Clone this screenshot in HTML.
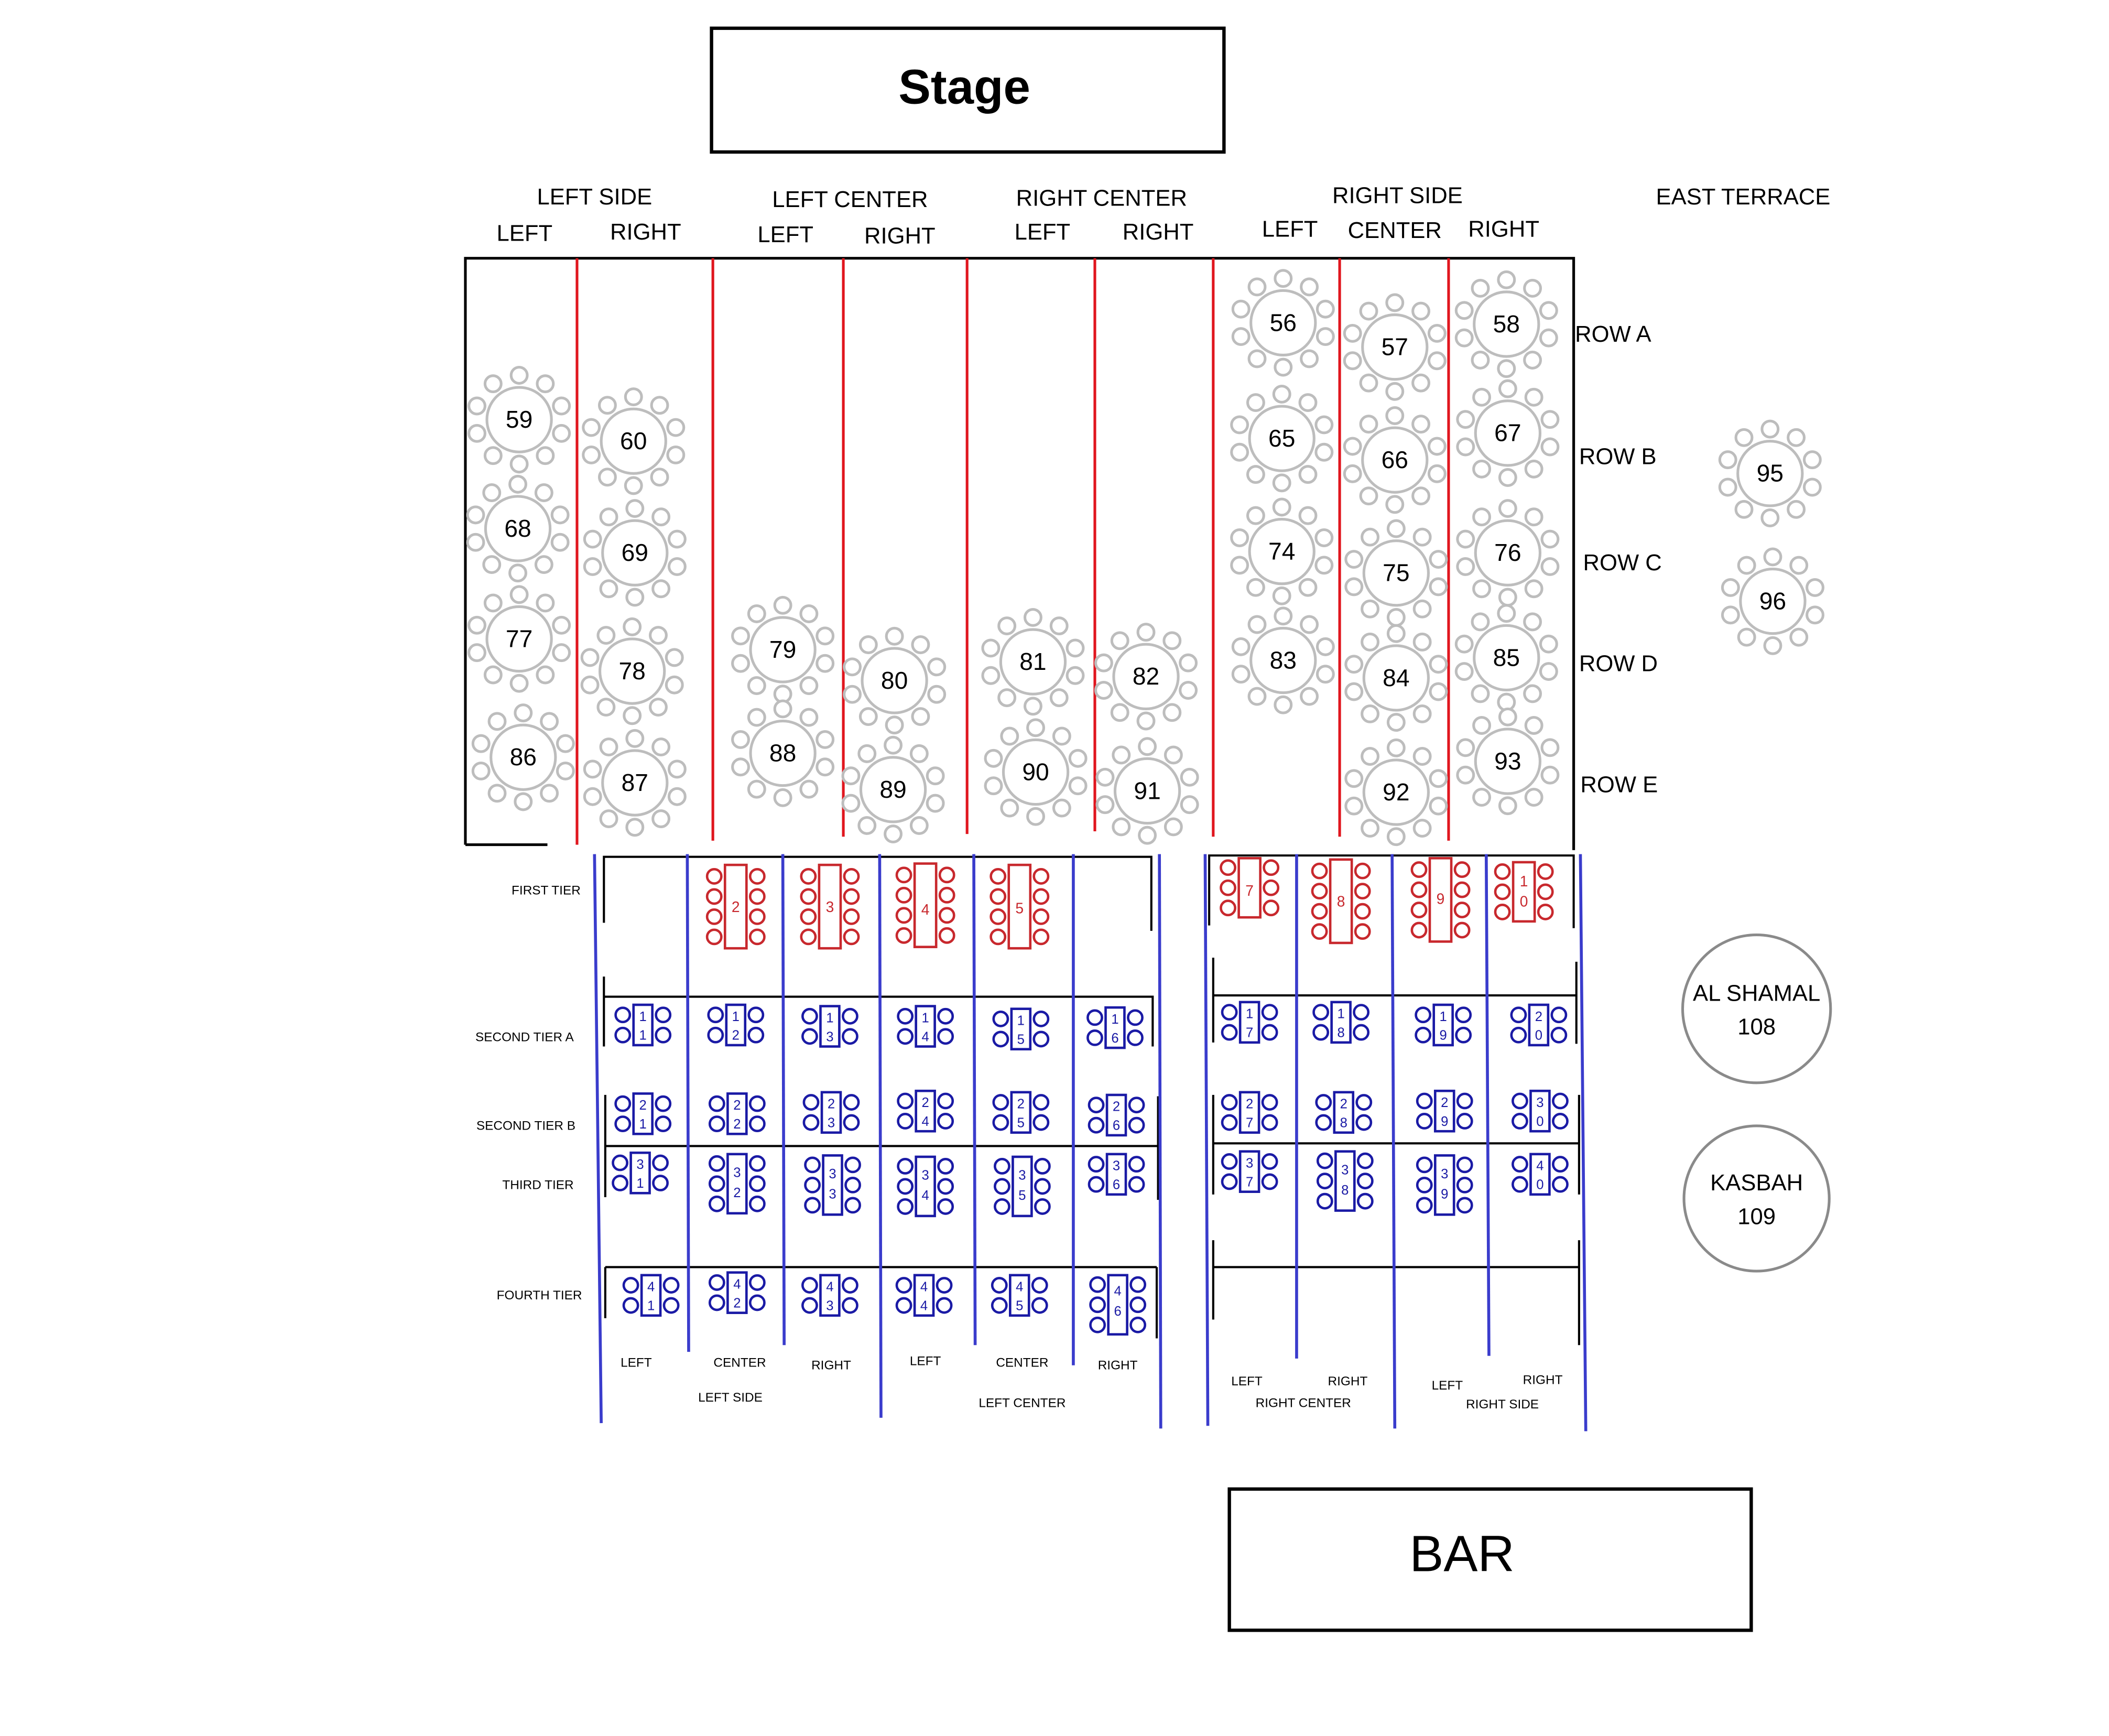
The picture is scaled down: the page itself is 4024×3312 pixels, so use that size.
<!DOCTYPE html>
<html><head><meta charset="utf-8"><style>
html,body{margin:0;padding:0;background:#fff}
svg{display:block}
text{font-family:"Liberation Sans","DejaVu Sans",sans-serif}
</style></head><body>
<svg xmlns="http://www.w3.org/2000/svg" xmlns:xlink="http://www.w3.org/1999/xlink" width="4024" height="3312" viewBox="0 0 1568 1290.6" preserveAspectRatio="none">
<defs>
<g id="rt" fill="#fff" stroke="#bdbdbd" stroke-width="2">
<circle cx="0" cy="0" r="24"/>
<circle cx="0" cy="-33" r="6"/><circle cx="19.4" cy="-26.7" r="6"/><circle cx="31.4" cy="-10.2" r="6"/><circle cx="31.4" cy="10.2" r="6"/><circle cx="19.4" cy="26.7" r="6"/>
<circle cx="0" cy="33" r="6"/><circle cx="-19.4" cy="26.7" r="6"/><circle cx="-31.4" cy="10.2" r="6"/><circle cx="-31.4" cy="-10.2" r="6"/><circle cx="-19.4" cy="-26.7" r="6"/>
</g>
<g id="r4" fill="none" stroke="#c8282d" stroke-width="1.8">
<rect x="-8" y="-31" width="16" height="62"/>
<circle cx="-16" cy="-22.5" r="5.3"/><circle cx="-16" cy="-7.5" r="5.3"/><circle cx="-16" cy="7.5" r="5.3"/><circle cx="-16" cy="22.5" r="5.3"/>
<circle cx="16" cy="-22.5" r="5.3"/><circle cx="16" cy="-7.5" r="5.3"/><circle cx="16" cy="7.5" r="5.3"/><circle cx="16" cy="22.5" r="5.3"/>
</g>
<g id="r3" fill="none" stroke="#c8282d" stroke-width="1.8">
<rect x="-8" y="-22" width="16" height="44"/>
<circle cx="-16" cy="-15" r="5.3"/><circle cx="-16" cy="0" r="5.3"/><circle cx="-16" cy="15" r="5.3"/>
<circle cx="16" cy="-15" r="5.3"/><circle cx="16" cy="0" r="5.3"/><circle cx="16" cy="15" r="5.3"/>
</g>
<g id="b2" fill="none" stroke="#1a1aa5" stroke-width="1.8">
<rect x="-7" y="-15" width="14" height="30"/>
<circle cx="-15" cy="-7.5" r="5.3"/><circle cx="-15" cy="7.5" r="5.3"/>
<circle cx="15" cy="-7.5" r="5.3"/><circle cx="15" cy="7.5" r="5.3"/>
</g>
<g id="b3" fill="none" stroke="#1a1aa5" stroke-width="1.8">
<rect x="-7" y="-22" width="14" height="44"/>
<circle cx="-15" cy="-15" r="5.3"/><circle cx="-15" cy="0" r="5.3"/><circle cx="-15" cy="15" r="5.3"/>
<circle cx="15" cy="-15" r="5.3"/><circle cx="15" cy="0" r="5.3"/><circle cx="15" cy="15" r="5.3"/>
</g>
</defs>

<!-- Stage -->
<rect x="529" y="21" width="381" height="92" fill="none" stroke="#000" stroke-width="2.5"/>
<text x="717" y="77" font-size="36" font-weight="bold" text-anchor="middle" font-family="DejaVu Sans, sans-serif">Stage</text>
<!-- BAR -->
<rect x="914" y="1107" width="388" height="105" fill="none" stroke="#000" stroke-width="2.5"/>
<text x="1087" y="1168" font-size="38" text-anchor="middle" font-family="DejaVu Sans, sans-serif">BAR</text>

<!-- header labels -->
<g font-size="17" text-anchor="middle" fill="#000">
<text x="442" y="152">LEFT SIDE</text>
<text x="390" y="179">LEFT</text><text x="480" y="178">RIGHT</text>
<text x="632" y="154">LEFT CENTER</text>
<text x="584" y="180">LEFT</text><text x="669" y="181">RIGHT</text>
<text x="819" y="153">RIGHT CENTER</text>
<text x="775" y="178">LEFT</text><text x="861" y="178">RIGHT</text>
<text x="1039" y="151">RIGHT SIDE</text>
<text x="959" y="176">LEFT</text><text x="1037" y="177">CENTER</text><text x="1118" y="176">RIGHT</text>
<text x="1296" y="152">EAST TERRACE</text>
</g>
<g font-size="17" fill="#000">
<text x="1171" y="254">ROW A</text>
<text x="1174" y="345">ROW B</text>
<text x="1177" y="424">ROW C</text>
<text x="1174" y="499">ROW D</text>
<text x="1175" y="589">ROW E</text>
</g>

<!-- main box -->
<path d="M346 628 V192 H1170 V632 M346 628 H407" fill="none" stroke="#000" stroke-width="2"/>
<g stroke="#e0161e" stroke-width="2">
<line x1="429" y1="192" x2="429" y2="628"/>
<line x1="530" y1="192" x2="530" y2="625"/>
<line x1="627" y1="192" x2="627" y2="622"/>
<line x1="719" y1="192" x2="719" y2="620"/>
<line x1="814" y1="192" x2="814" y2="618"/>
<line x1="902" y1="192" x2="902" y2="622"/>
<line x1="996" y1="192" x2="996" y2="622"/>
<line x1="1077" y1="192" x2="1077" y2="625"/>
</g>

<!-- round tables -->
<g font-size="18" text-anchor="middle" fill="#000">
<use xlink:href="#rt" x="954" y="240"/><text x="954" y="246">56</text>
<use xlink:href="#rt" x="1037" y="258"/><text x="1037" y="264">57</text>
<use xlink:href="#rt" x="1120" y="241"/><text x="1120" y="247">58</text>
<use xlink:href="#rt" x="386" y="312"/><text x="386" y="318">59</text>
<use xlink:href="#rt" x="471" y="328"/><text x="471" y="334">60</text>
<use xlink:href="#rt" x="953" y="326"/><text x="953" y="332">65</text>
<use xlink:href="#rt" x="1037" y="342"/><text x="1037" y="348">66</text>
<use xlink:href="#rt" x="1121" y="322"/><text x="1121" y="328">67</text>
<use xlink:href="#rt" x="1316" y="352"/><text x="1316" y="358">95</text>
<use xlink:href="#rt" x="385" y="393"/><text x="385" y="399">68</text>
<use xlink:href="#rt" x="472" y="411"/><text x="472" y="417">69</text>
<use xlink:href="#rt" x="953" y="410"/><text x="953" y="416">74</text>
<use xlink:href="#rt" x="1038" y="426"/><text x="1038" y="432">75</text>
<use xlink:href="#rt" x="1121" y="411"/><text x="1121" y="417">76</text>
<use xlink:href="#rt" x="1318" y="447"/><text x="1318" y="453">96</text>
<use xlink:href="#rt" x="386" y="475"/><text x="386" y="481">77</text>
<use xlink:href="#rt" x="470" y="499"/><text x="470" y="505">78</text>
<use xlink:href="#rt" x="582" y="483"/><text x="582" y="489">79</text>
<use xlink:href="#rt" x="665" y="506"/><text x="665" y="512">80</text>
<use xlink:href="#rt" x="768" y="492"/><text x="768" y="498">81</text>
<use xlink:href="#rt" x="852" y="503"/><text x="852" y="509">82</text>
<use xlink:href="#rt" x="954" y="491"/><text x="954" y="497">83</text>
<use xlink:href="#rt" x="1038" y="504"/><text x="1038" y="510">84</text>
<use xlink:href="#rt" x="1120" y="489"/><text x="1120" y="495">85</text>
<use xlink:href="#rt" x="389" y="563"/><text x="389" y="569">86</text>
<use xlink:href="#rt" x="472" y="582"/><text x="472" y="588">87</text>
<use xlink:href="#rt" x="582" y="560"/><text x="582" y="566">88</text>
<use xlink:href="#rt" x="664" y="587"/><text x="664" y="593">89</text>
<use xlink:href="#rt" x="770" y="574"/><text x="770" y="580">90</text>
<use xlink:href="#rt" x="853" y="588"/><text x="853" y="594">91</text>
<use xlink:href="#rt" x="1038" y="589"/><text x="1038" y="595">92</text>
<use xlink:href="#rt" x="1121" y="566"/><text x="1121" y="572">93</text>
</g>

<!-- Al Shamal / Kasbah -->
<circle cx="1306" cy="750" r="55" fill="none" stroke="#8a8a8a" stroke-width="2"/>
<circle cx="1306" cy="891" r="54" fill="none" stroke="#8a8a8a" stroke-width="2"/>
<g font-size="17" text-anchor="middle">
<text x="1306" y="744">AL SHAMAL</text><text x="1306" y="769">108</text>
<text x="1306" y="885">KASBAH</text><text x="1306" y="910">109</text>
</g>

<!-- lower black lines -->
<g stroke="#000" stroke-width="1.6" fill="none">
<path d="M449 686 V637 H856 V692"/>
<path d="M449 726 V778 M449 741 H857 V778"/>
<path d="M450 814 V890 M450 852 H861 M861 815 V892"/>
<path d="M450 942 H860 M450 942 V980 M860 942 V995"/>
<path d="M899 688 V636 H1170 V690"/>
<path d="M902 712 V775 M902 740 H1172 M1172 715 V776"/>
<path d="M902 814 V888 M902 850 H1174 M1174 814 V888"/>
<path d="M902 922 V981 M902 942 H1174 M1174 922 V1000"/>
</g>
<!-- blue lines -->
<g stroke="#3a3ccc" stroke-width="2.2">
<line x1="442" y1="635" x2="447" y2="1058"/>
<line x1="511" y1="635" x2="512" y2="1005"/>
<line x1="582" y1="635" x2="583" y2="1000"/>
<line x1="654" y1="635" x2="655" y2="1054"/>
<line x1="724" y1="635" x2="725" y2="1000"/>
<line x1="798" y1="635" x2="798" y2="1015"/>
<line x1="862" y1="635" x2="863" y2="1062"/>
<line x1="896" y1="635" x2="898" y2="1060"/>
<line x1="964" y1="635" x2="964" y2="1010"/>
<line x1="1035" y1="635" x2="1037" y2="1062"/>
<line x1="1105" y1="635" x2="1107" y2="1008"/>
<line x1="1175" y1="635" x2="1179" y2="1064"/>
</g>

<!-- tier labels -->
<g font-size="9.5" text-anchor="middle" fill="#000">
<text x="406" y="665">FIRST TIER</text>
<text x="390" y="774">SECOND TIER A</text>
<text x="391" y="840">SECOND TIER B</text>
<text x="400" y="884">THIRD TIER</text>
<text x="401" y="966">FOURTH TIER</text>
<text x="473" y="1016">LEFT</text><text x="550" y="1016">CENTER</text><text x="618" y="1018">RIGHT</text>
<text x="688" y="1015">LEFT</text><text x="760" y="1016">CENTER</text><text x="831" y="1018">RIGHT</text>
<text x="543" y="1042">LEFT SIDE</text><text x="760" y="1046">LEFT CENTER</text>
<text x="927" y="1030">LEFT</text><text x="1002" y="1030">RIGHT</text><text x="969" y="1046">RIGHT CENTER</text>
<text x="1076" y="1033">LEFT</text><text x="1147" y="1029">RIGHT</text><text x="1117" y="1047">RIGHT SIDE</text>
</g>

<!-- red first tier -->
<g font-size="11" text-anchor="middle" fill="#c8282d">
<use xlink:href="#r4" x="547" y="674"/><text x="547" y="678">2</text>
<use xlink:href="#r4" x="617" y="674"/><text x="617" y="678">3</text>
<use xlink:href="#r4" x="688" y="673"/><text x="688" y="680">4</text>
<use xlink:href="#r4" x="758" y="674"/><text x="758" y="679">5</text>
<use xlink:href="#r3" x="929" y="660"/><text x="929" y="666">7</text>
<use xlink:href="#r4" x="997" y="670"/><text x="997" y="674">8</text>
<use xlink:href="#r4" x="1071" y="669"/><text x="1071" y="672">9</text>
<use xlink:href="#r3" x="1133" y="663"/><text x="1133" y="659">1</text><text x="1133" y="674">0</text>
</g>

<!-- blue tables -->
<g font-size="10" text-anchor="middle" fill="#1a1aa5">
<use xlink:href="#b2" x="478" y="762"/><text x="478" y="759">1</text><text x="478" y="773">1</text>
<use xlink:href="#b2" x="547" y="762"/><text x="547" y="759">1</text><text x="547" y="773">2</text>
<use xlink:href="#b2" x="617" y="763"/><text x="617" y="760">1</text><text x="617" y="774">3</text>
<use xlink:href="#b2" x="688" y="763"/><text x="688" y="760">1</text><text x="688" y="774">4</text>
<use xlink:href="#b2" x="759" y="765"/><text x="759" y="762">1</text><text x="759" y="776">5</text>
<use xlink:href="#b2" x="829" y="764"/><text x="829" y="761">1</text><text x="829" y="775">6</text>
<use xlink:href="#b2" x="929" y="760"/><text x="929" y="757">1</text><text x="929" y="771">7</text>
<use xlink:href="#b2" x="997" y="760"/><text x="997" y="757">1</text><text x="997" y="771">8</text>
<use xlink:href="#b2" x="1073" y="762"/><text x="1073" y="759">1</text><text x="1073" y="773">9</text>
<use xlink:href="#b2" x="1144" y="762"/><text x="1144" y="759">2</text><text x="1144" y="773">0</text>

<use xlink:href="#b2" x="478" y="828"/><text x="478" y="825">2</text><text x="478" y="839">1</text>
<use xlink:href="#b2" x="548" y="828"/><text x="548" y="825">2</text><text x="548" y="839">2</text>
<use xlink:href="#b2" x="618" y="827"/><text x="618" y="824">2</text><text x="618" y="838">3</text>
<use xlink:href="#b2" x="688" y="826"/><text x="688" y="823">2</text><text x="688" y="837">4</text>
<use xlink:href="#b2" x="759" y="827"/><text x="759" y="824">2</text><text x="759" y="838">5</text>
<use xlink:href="#b2" x="830" y="829"/><text x="830" y="826">2</text><text x="830" y="840">6</text>
<use xlink:href="#b2" x="929" y="827"/><text x="929" y="824">2</text><text x="929" y="838">7</text>
<use xlink:href="#b2" x="999" y="827"/><text x="999" y="824">2</text><text x="999" y="838">8</text>
<use xlink:href="#b2" x="1074" y="826"/><text x="1074" y="823">2</text><text x="1074" y="837">9</text>
<use xlink:href="#b2" x="1145" y="826"/><text x="1145" y="823">3</text><text x="1145" y="837">0</text>

<use xlink:href="#b2" x="476" y="872"/><text x="476" y="869">3</text><text x="476" y="883">1</text>
<use xlink:href="#b3" x="548" y="880"/><text x="548" y="875">3</text><text x="548" y="890">2</text>
<use xlink:href="#b3" x="619" y="881"/><text x="619" y="876">3</text><text x="619" y="891">3</text>
<use xlink:href="#b3" x="688" y="882"/><text x="688" y="877">3</text><text x="688" y="892">4</text>
<use xlink:href="#b3" x="760" y="882"/><text x="760" y="877">3</text><text x="760" y="892">5</text>
<use xlink:href="#b2" x="830" y="873"/><text x="830" y="870">3</text><text x="830" y="884">6</text>
<use xlink:href="#b2" x="929" y="871"/><text x="929" y="868">3</text><text x="929" y="882">7</text>
<use xlink:href="#b3" x="1000" y="878"/><text x="1000" y="873">3</text><text x="1000" y="888">8</text>
<use xlink:href="#b3" x="1074" y="881"/><text x="1074" y="876">3</text><text x="1074" y="891">9</text>
<use xlink:href="#b2" x="1145" y="873"/><text x="1145" y="870">4</text><text x="1145" y="884">0</text>

<use xlink:href="#b2" x="484" y="963"/><text x="484" y="960">4</text><text x="484" y="974">1</text>
<use xlink:href="#b2" x="548" y="961"/><text x="548" y="958">4</text><text x="548" y="972">2</text>
<use xlink:href="#b2" x="617" y="963"/><text x="617" y="960">4</text><text x="617" y="974">3</text>
<use xlink:href="#b2" x="687" y="963"/><text x="687" y="960">4</text><text x="687" y="974">4</text>
<use xlink:href="#b2" x="758" y="963"/><text x="758" y="960">4</text><text x="758" y="974">5</text>
<use xlink:href="#b3" x="831" y="970"/><text x="831" y="963">4</text><text x="831" y="978">6</text>
</g>
</svg>
</body></html>
